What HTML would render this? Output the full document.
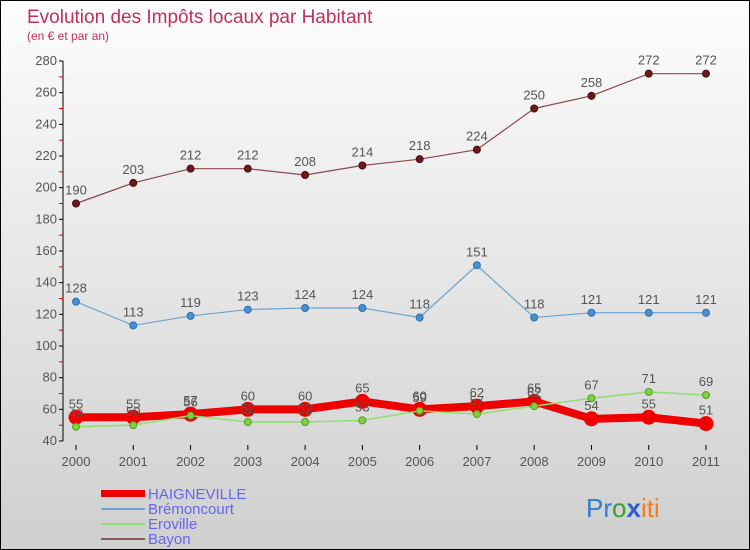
<!DOCTYPE html>
<html><head><meta charset="utf-8"><style>
body{margin:0}
#c{width:750px;height:550px;position:relative;overflow:hidden;box-sizing:border-box;border:1px solid #000;background:linear-gradient(#fdfdfd,#cfcfcf);font-family:"Liberation Sans",sans-serif}
</style></head><body>
<div id="c">
<svg id="s" width="750" height="550" style="position:absolute;left:0;top:0">
<text x="26" y="22" font-size="19" fill="#c0305a" style="font-weight:300">Evolution des Impôts locaux par Habitant</text>
<text x="26" y="39" font-size="12" fill="#c0305a">(en € et par an)</text>
<g id="axes"></g><g id="series"></g>
<g>
<rect x="100" y="489" width="44" height="7" fill="#e00"/>
<text x="147" y="498" font-size="15" fill="#6666ee">HAIGNEVILLE</text>
<rect x="100" y="507" width="44" height="2" fill="#6fa6d0"/>
<text x="147" y="513" font-size="15" fill="#6666ee">Brémoncourt</text>
<rect x="100" y="522" width="44" height="2" fill="#90e070"/>
<text x="147" y="528" font-size="15" fill="#6666ee">Eroville</text>
<rect x="100" y="537" width="44" height="2" fill="#8a5a5a"/>
<text x="147" y="543" font-size="15" fill="#6666ee">Bayon</text>
</g>
<text x="585" y="516" font-size="26"><tspan fill="#2a7fd0">Pr</tspan><tspan fill="#3aa03a">o</tspan><tspan fill="#2a5fd0" font-weight="bold">x</tspan><tspan fill="#f08020">iti</tspan></text>
</svg>
</div>
<script>
const years=["2000","2001","2002","2003","2004","2005","2006","2007","2008","2009","2010","2011"];
const yTicks=[40,60,80,100,120,140,160,180,200,220,240,260,280];
const haigneville=[55,55,57,60,60,65,60,62,65,54,55,51];
const bremoncourt=[128,113,119,123,124,124,118,151,118,121,121,121];
const eroville=[49,50,56,52,52,53,59,57,62,67,71,69];
const bayon=[190,203,212,212,208,214,218,224,250,258,272,272];
const NS="http://www.w3.org/2000/svg";
const X=i=>75+i*(705-75)/(years.length-1);
const Y=v=>440-(v-40)*(380/240);
function mk(t,a,p){const e=document.createElementNS(NS,t);for(const k in a)e.setAttribute(k,a[k]);p.appendChild(e);return e;}
const ax=document.getElementById('axes');
const yl=mk('line',{x1:62,y1:Y(280),x2:62,y2:Y(40),stroke:'#000'},ax);


yTicks.forEach(v=>{
 mk('line',{x1:58,y1:Y(v),x2:62,y2:Y(v),stroke:'#000'},ax);
 if(v<280){mk('line',{x1:58,y1:Y(v+10),x2:62,y2:Y(v+10),stroke:'#e00'},ax);}
 const t=mk('text',{x:56,y:Y(v)+4,'font-size':13,fill:'#555','text-anchor':'end'},ax);
 t.textContent=v;
 
 
});
years.forEach((y,i)=>{
 mk('line',{x1:X(i),y1:444,x2:X(i),y2:449,stroke:'#000'},ax);
 const t=mk('text',{x:X(i),y:465,'font-size':13,fill:'#555','text-anchor':'middle'},ax);
 t.textContent=y;
 
 
});
const sg=document.getElementById('series');
function series(name,data,color,w,r,dot,dotStroke){
 const g=mk('g',{},sg);
 
 
 const pl=mk('polyline',{points:data.map((v,i)=>X(i)+','+Y(v)).join(' '),fill:'none',stroke:color,'stroke-width':w,'stroke-linejoin':'round'},g);
 
 
 data.forEach((v,i)=>{
  const c=mk('circle',{cx:X(i),cy:Y(v),r:r,fill:dot,stroke:dotStroke,'stroke-width':1},g);
  
  
  const t=mk('text',{x:X(i),y:Y(v)-9,'font-size':13,fill:'#555','text-anchor':'middle'},g);
  t.textContent=v;
  
  
 });
}
series('bayon',bayon,'#8a4a4a',1.2,3.5,'#6a1a1a','#4a0a0a');
series('bremoncourt',bremoncourt,'#6fa6d0',1.2,3.5,'#4a90d0','#2a70b0');
series('haigneville',haigneville,'#e00',8,7,'#e00','#e00');
series('eroville',eroville,'#90e070',1.5,3.5,'#80d040','#50a020');
</script>
</body></html>
